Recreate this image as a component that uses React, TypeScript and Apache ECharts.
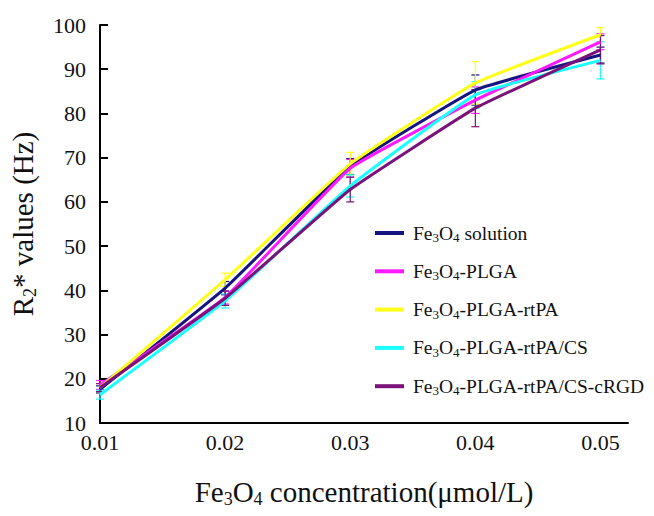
import React, { useEffect, useRef } from "react";
import * as echarts from "echarts";

const xValues = [0.01, 0.02, 0.03, 0.04, 0.05];
const seriesNames = [
  "Fe3O4 solution",
  "Fe3O4-PLGA",
  "Fe3O4-PLGA-rtPA",
  "Fe3O4-PLGA-rtPA/CS",
  "Fe3O4-PLGA-rtPA/CS-cRGD",
];
const seriesColors = ["#151580", "#ff1aff", "#ffff1a", "#1affff", "#7a127a"];

const solutionValues = [17.6, 40.5, 68.0, 85.3, 93.2];
const plgaValues = [18.6, 38.4, 67.6, 83.0, 96.2];
const rtpaValues = [18.0, 42.4, 68.6, 86.9, 97.8];
const csValues = [16.4, 37.6, 63.6, 84.2, 92.0];
const crgdValues = [18.0, 38.2, 62.8, 81.2, 94.4];

const solutionErr = [0.8, 1.5, 1.8, 3.4, 1.8];
const plgaErr = [1.0, 1.5, 2.0, 3.0, 1.8];
const rtpaErr = [0.9, 1.5, 2.6, 4.8, 1.6];
const csErr = [1.0, 1.6, 2.5, 3.0, 4.2];
const crgdErr = [0.9, 1.6, 2.8, 4.2, 3.2];

const allValues = [solutionValues, plgaValues, rtpaValues, csValues, crgdValues];
const allErrors = [solutionErr, plgaErr, rtpaErr, csErr, crgdErr];

const yTicks = { min: 10, max: 100, interval: 10 };
const xTicks = { min: 0.01, max: 0.0522, interval: 0.01 };

const FONT = "'Liberation Serif', 'Times New Roman', serif";

function richName(name: string): string {
  const m = name.match(/^Fe3O4(.*)$/);
  if (!m) return `{n|${name}}`;
  return `{n|Fe}{s|3}{n|O}{s|4}{n|${m[1]}}`;
}

export default function App() {
  const ref = useRef<HTMLDivElement>(null);
  useEffect(() => {
    if (!ref.current) return;
    const chart = echarts.init(ref.current, null, { renderer: "svg" });

    const lineSeries = seriesNames.map((name, i) => ({
      name,
      type: "line",
      data: xValues.map((x, j) => [x, allValues[i][j]]),
      showSymbol: false,
      smooth: 0.1,
      color: seriesColors[i],
      lineStyle: { color: seriesColors[i], width: 3 },
      itemStyle: { color: seriesColors[i] },
      z: 3,
    }));

    const errorSeries = seriesNames.map((name, i) => ({
      name,
      type: "custom",
      color: seriesColors[i],
      itemStyle: { color: seriesColors[i] },
      data: xValues.map((x, j) => [x, allValues[i][j] - allErrors[i][j], allValues[i][j] + allErrors[i][j]]),
      renderItem: (params: any, api: any) => {
        const x = api.value(0);
        const lo = api.coord([x, api.value(1)]);
        const hi = api.coord([x, api.value(2)]);
        const hw = 4;
        const style = { stroke: seriesColors[i], lineWidth: 1.2 };
        return {
          type: "group",
          children: [
            { type: "line", shape: { x1: lo[0], y1: lo[1], x2: hi[0], y2: hi[1] }, style },
            { type: "line", shape: { x1: lo[0] - hw, y1: lo[1], x2: lo[0] + hw, y2: lo[1] }, style },
            { type: "line", shape: { x1: hi[0] - hw, y1: hi[1], x2: hi[0] + hw, y2: hi[1] }, style },
          ],
        };
      },
      z: 2,
    }));

    const legendRich = {
      n: { fontFamily: FONT, fontSize: 19.5, color: "#111", lineHeight: 22 },
      s: { fontFamily: FONT, fontSize: 13, color: "#111", lineHeight: 13, verticalAlign: "bottom" },
    };
    const titleRich = {
      n: { fontFamily: FONT, fontSize: 29, color: "#111", lineHeight: 32 },
      s: { fontFamily: FONT, fontSize: 18, color: "#111", lineHeight: 18, verticalAlign: "bottom" },
    };

    chart.setOption({
      animation: false,
      backgroundColor: "#fff",
      grid: { left: 100, right: 26, top: 25, bottom: 93 },
      legend: {
        data: seriesNames.map((name, i) => ({
          name,
          itemStyle: { color: seriesColors[i] },
        })),
        orient: "vertical",
        left: 370,
        top: 218,
        icon: "rect",
        itemWidth: 29,
        itemHeight: 4,
        itemGap: 17.3,
        formatter: (name: string) => richName(name),
        textStyle: { fontFamily: FONT, rich: legendRich, padding: [0, 0, 0, 4] },
      },
      xAxis: {
        type: "value",
        min: xTicks.min,
        max: xTicks.max,
        interval: xTicks.interval,
        name: "{n|Fe}{s|3}{n|O}{s|4}{n| concentration(μmol/L)}",
        nameLocation: "middle",
        nameGap: 53,
        nameTextStyle: { fontFamily: FONT, rich: titleRich },
        axisLine: { lineStyle: { color: "#000", width: 2 } },
        axisTick: { show: false },
        splitLine: { show: false },
        axisLabel: {
          fontFamily: FONT,
          fontSize: 22,
          color: "#111",
          margin: 8,
          showMaxLabel: false,
          formatter: (v: number) => v.toFixed(2),
        },
      },
      yAxis: {
        type: "value",
        min: yTicks.min,
        max: yTicks.max,
        interval: yTicks.interval,
        name: "{n|R}{s|2}{n|* values (Hz)}",
        nameLocation: "middle",
        nameRotate: 90,
        nameGap: 61,
        nameTextStyle: { fontFamily: FONT, rich: titleRich },
        axisLine: { show: true, lineStyle: { color: "#000", width: 2 } },
        axisTick: { show: true, inside: true, length: 8, lineStyle: { color: "#000", width: 2 } },
        splitLine: { show: false },
        axisLabel: { fontFamily: FONT, fontSize: 22, color: "#111", margin: 14 },
      },
      series: [...errorSeries, ...lineSeries],
    });

    return () => chart.dispose();
  }, []);

  return (
    <div
      ref={ref}
      style={{ position: "fixed", left: 0, top: 0, width: 654, height: 516 }}
    />
  );
}
